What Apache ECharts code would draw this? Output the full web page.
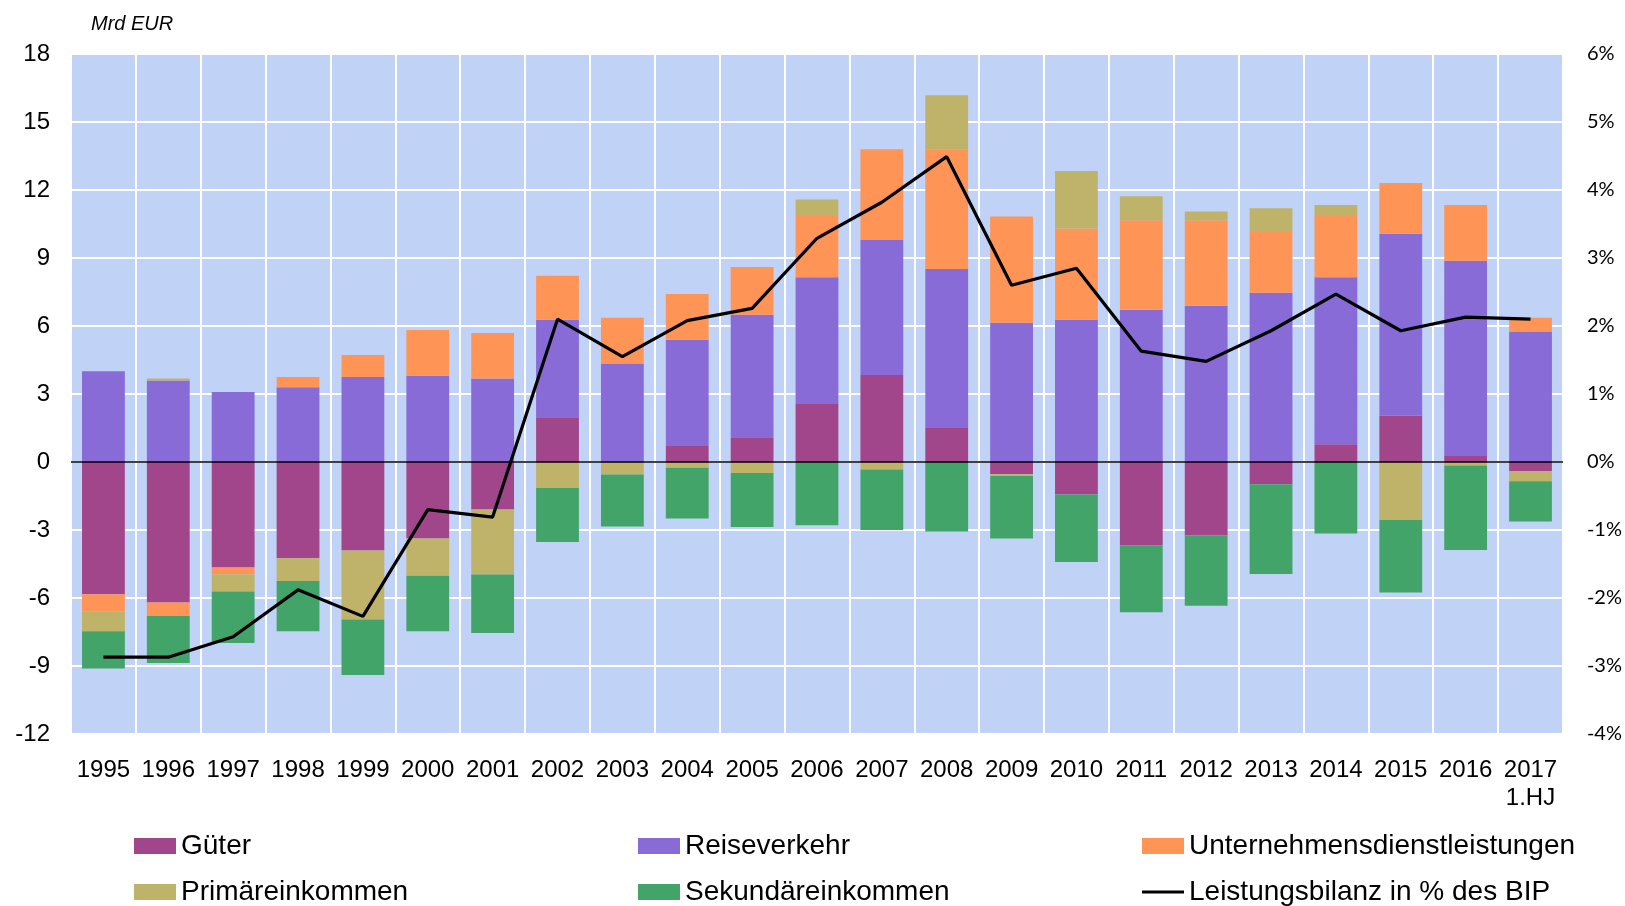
<!DOCTYPE html>
<html>
<head>
<meta charset="utf-8">
<script src="https://cdn.jsdelivr.net/npm/echarts@6/dist/echarts.min.js"></script>
<style>
  html, body { margin: 0; padding: 0; background: #fff; }
  #chart { width: 1625px; height: 906px; }
</style>
</head>
<body>
<div id="chart"></div>
<script>
// Mrd EUR, stacked components of the current account
var years = ['1995', '1996', '1997', '1998', '1999', '2000', '2001', '2002', '2003', '2004', '2005', '2006',
    '2007', '2008', '2009', '2010', '2011', '2012', '2013', '2014', '2015', '2016', '2017\n1.HJ'];

var gueter = [-5.84, -6.2, -4.65, -4.25, -3.9, -3.37, -2.1, 1.97, 0, 0.71, 1.09, 2.56,
    3.84, 1.53, -0.54, -1.43, -3.67, -3.23, -0.98, 0.78, 2.05, 0.26, -0.41];
var reiseverkehr = [4.0, 3.6, 3.09, 3.3, 3.75, 3.81, 3.68, 4.31, 4.35, 4.68, 5.41, 5.59,
    5.95, 6.98, 6.14, 6.28, 6.72, 6.89, 7.47, 7.37, 8.02, 8.62, 5.76];
var unternehmensDl = [-0.75, -0.59, -0.3, 0.45, 0.97, 2.01, 2.01, 1.94, 2.01, 2.02, 2.1, 2.75,
    4.01, 5.29, 4.69, 4.02, 3.95, 3.78, 2.68, 2.75, 2.24, 2.46, 0.6];
var primaer = [-0.88, 0.08, -0.76, -1.0, -3.05, -1.65, -2.86, -1.15, -0.55, -0.25, -0.48, 0.68,
    -0.33, 2.38, -0.08, 2.54, 1.05, 0.38, 1.05, 0.44, -2.56, -0.15, -0.44];
var sekundaer = [-1.64, -2.08, -2.28, -2.22, -2.45, -2.45, -2.58, -2.38, -2.3, -2.24, -2.39, -2.79,
    -2.67, -3.07, -2.76, -2.98, -2.96, -3.11, -3.96, -3.15, -3.2, -3.73, -1.77];

// Leistungsbilanz in % des BIP (right axis)
var bilanzPct = [-2.87, -2.87, -2.57, -1.88, -2.27, -0.70, -0.81, 2.10, 1.55, 2.08, 2.26, 3.29,
    3.82, 4.49, 2.60, 2.85, 1.63, 1.48, 1.93, 2.47, 1.93, 2.13, 2.10];

var font = '"Liberation Sans", Arial, sans-serif';

function barSeries(name, data, color) {
    return {
        name: name,
        type: 'bar',
        stack: 'total',
        barWidth: '66%',
        data: data,
        itemStyle: { color: color },
        emphasis: { disabled: true }
    };
}

var chart = echarts.init(document.getElementById('chart'));

var series = [
    barSeries('Güter', gueter, '#A1468A'),
    barSeries('Reiseverkehr', reiseverkehr, '#886BD6'),
    barSeries('Unternehmensdienstleistungen', unternehmensDl, '#FE9556'),
    barSeries('Primäreinkommen', primaer, '#BFB36A'),
    barSeries('Sekundäreinkommen', sekundaer, '#43A46A'),
    {
        name: 'Leistungsbilanz in % des BIP',
        type: 'line',
        yAxisIndex: 1,
        data: bilanzPct,
        symbol: 'none',
        lineStyle: { color: '#000', width: 3.2 },
        itemStyle: { color: '#000' },
        z: 5
    }
];

// zero line
series[0].markLine = {
    silent: true,
    symbol: 'none',
    label: { show: false },
    lineStyle: { color: '#000', width: 1.5, type: 'solid' },
    data: [{ yAxis: 0 }],
    z: 4
};

function legendItem(name, left, top, icon) {
    return {
        left: left,
        top: top,
        itemWidth: 42,
        itemHeight: 16,
        icon: icon || 'rect',
        textStyle: { fontFamily: font, fontSize: 28, color: '#000' },
        selectedMode: false,
        data: [name]
    };
}

chart.setOption({
    animation: false,
    title: {
        text: 'Mrd EUR',
        left: 86,
        top: 9,
        textStyle: { fontFamily: font, fontSize: 20, fontStyle: 'italic', fontWeight: 'normal', color: '#000' }
    },
    grid: {
        left: 71,
        right: 60,
        top: 54,
        bottom: 172,
        show: true,
        backgroundColor: '#C0D3F7',
        borderWidth: 0
    },
    legend: [
        legendItem('Güter', 129, 827),
        legendItem('Primäreinkommen', 129, 873),
        legendItem('Reiseverkehr', 633, 827),
        legendItem('Sekundäreinkommen', 633, 873),
        legendItem('Unternehmensdienstleistungen', 1137, 827),
        legendItem('Leistungsbilanz in % des BIP', 1137, 873, 'path://M0,7 L42,7 L42,10 L0,10 Z')
    ],
    xAxis: {
        type: 'category',
        data: years,
        axisLine: { show: false },
        axisTick: { show: false },
        axisLabel: { fontFamily: font, fontSize: 24, color: '#000', margin: 22, lineHeight: 28, interval: 0 },
        splitLine: { show: true, interval: 0, lineStyle: { color: '#fff', width: 2 } }
    },
    yAxis: [
        {
            type: 'value',
            min: -12,
            max: 18,
            interval: 3,
            axisLine: { show: false },
            axisTick: { show: false },
            axisLabel: { fontFamily: font, fontSize: 24, color: '#000', margin: 21 },
            splitLine: { show: true, lineStyle: { color: '#fff', width: 2 } }
        },
        {
            type: 'value',
            min: -4,
            max: 6,
            interval: 1,
            position: 'right',
            axisLine: { show: false },
            axisTick: { show: false },
            axisLabel: { fontFamily: 'Lato, sans-serif', fontSize: 20, color: '#000', margin: 24, formatter: '{value}%' },
            splitLine: { show: false }
        }
    ],
    series: series
});
</script>
</body>
</html>
